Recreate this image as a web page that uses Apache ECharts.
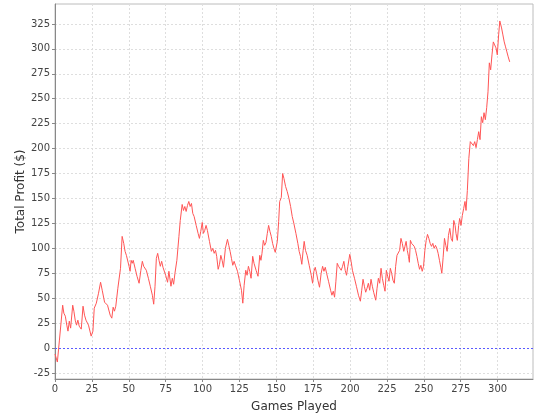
<!DOCTYPE html>
<html>
<head>
<meta charset="utf-8">
<script src="https://cdn.jsdelivr.net/npm/echarts@6/dist/echarts.min.js"></script>
<style>html,body{margin:0;padding:0;background:#fff}#c{width:540px;height:420px}</style>
</head>
<body>
<div id="c"></div>
<script>
// Vertices of the profit curve: game number and total profit ($)
var games = [0,1.6,3,5.2,6,7,8,8.8,9.7,10.6,12,12.8,13.7,14.6,15.5,16.4,17.8,19,20,21,21.8,22.7,24.5,25.7,26.6,28,29.5,30.9,32,33.6,34.7,35.6,37.4,38.5,39.4,40.3,41.2,42.6,43.7,44.4,45.5,46.6,47.5,48.4,49.3,50.2,50.9,51.6,52.3,53,54.3,55.6,57,58.2,59.2,
60.1,61,61.9,63.3,64.6,66,66.9,67.8,68.7,69.6,70.5,71.4,72.3,73.2,74,75,76.3,77.2,78.6,79.5,80.4,81.3,82.6,84,84.9,86.2,87.1,88,88.9,89.8,90.7,91.6,92.5,93.4,94.3,95.7,97,97.9,98.8,99.8,100.6,101.5,102.4,103.3,104.7,106,107,107.9,108.8,109.6,110.6,111.5,112.4,113.3,114.2,115.5,116.9,117.8,118.7,119.6,120.5,121.4,122.3,123.7,125,126.4,127.3,128.2,129.3,130.2,131.1,132,132.9,134,134.9,136.3,137.6,138.8,139.6,140.3,141.2,142.1,143,143.9,144.8,145.7,146.6,147.5,148.4,149.3,150.7,151.6,152.3,153.4,154.3,155.2,156.3,157.4,158.6,159.7,160.8,161.9,163.3,164.6,165.5,166.4,167.3,168.2,168.9,169.8,170.9,172.3,173.7,174.6,175.5,176.4,177.3,178.2,179.3,180.4,181.4,182.3,183.2,184.1,185.4,186.8,187.7,188.6,189.5,190.4,191.3,192.2,193.1,194,194.9,195.8,196.7,197.6,198.5,199.8,200.7,201.6,203,204.3,205.7,207,207.9,208.8,209.7,210.6,211.5,212.4,213.3,214.2,215.1,216,217.4,218.3,219.2,220.1,221,221.9,222.8,223.7,224.6,225.5,226.4,227.3,228.2,229.1,230,230.9,231.8,232.7,233.6,234.5,235.4,236.4,237.2,
238,238.8,239.6,240.2,240.9,241.7,242.6,243.5,244.4,245.3,246.2,247.1,248,248.9,249.8,250.7,251.6,252.5,253.4,254.3,255.2,256.1,257,257.9,258.8,259.7,260.6,261.5,262.2,263.1,264,264.9,265.8,266.7,267.6,268.5,269.4,270.3,271.2,271.8,272.7,273.6,274.3,275.2,276.1,277,277.9,278.6,279.5,280.5,281.5,282.5,283.6,284.5,285.4,286.3,287.2,288.1,289,289.9,290.8,291.7,292.6,293.5,294.4,295.3,296.2,297.1,298,298.9,299.8,300.7,301.5,302.7,303.6,304.5,305.4,306.3,307.2,308.2];
var profit = [-6,-14,8,43,35,32,23,17,27,20,43,37,28,23,28,22,19,42,33,28,30,23,12,17,40,45,55,66,58,46,48,43,33,30,41,37,42,60,62,80,112,105,97,93,92,82,77,88,85,88,80,72,65,78,87,
82,84,78,70,62,53,44,62,90,95,88,82,87,81,82,73,66,77,62,70,64,75,88,112,128,144,138,142,137,143,147,142,145,135,132,123,115,110,117,126,115,118,123,118,107,97,100,95,98,92,79,84,93,88,81,100,109,103,97,90,83,87,83,77,68,58,45,63,78,73,82,77,70,92,85,78,72,93,88,95,108,103,106,115,123,117,112,105,100,96,107,127,147,151,175,170,162,157,150,142,132,125,115,105,97,92,84,98,107,98,93,83,73,65,77,81,75,68,61,75,82,77,81,75,67,58,53,57,51,67,85,82,84,78,82,87,78,73,82,94,87,78,70,62,53,47,58,69,62,56,60,65,58,69,62,56,48,60,70,65,80,70,63,57,78,72,67,80,75,68,65,82,93,92,98,110,105,97,102,
107,98,92,86,108,105,107,102,98,92,85,79,83,77,82,98,108,114,110,105,102,105,100,103,100,95,88,81,75,91,110,103,97,113,120,110,107,128,123,115,108,123,130,123,133,140,147,138,158,190,207,209,203,207,201,209,217,209,232,226,236,229,241,257,286,279,294,307,304,301,294,314,328,321,314,307,302,297,292,287];

var xMin = 0, xMax = 324, xStep = 25;
var yMin = -31, yMax = 345;
var yTicks = [-25,0,25,50,75,100,125,150,175,200,225,250,275,300,325];
var xTitle = 'Games Played';
var yTitle = 'Total Profit ($)';

var points = games.map(function (g, i) { return [g, profit[i]]; });

var chart = echarts.init(document.getElementById('c'), null, {renderer: 'canvas'});
var font = 'DejaVu Sans';
var gridLine = {show: true, lineStyle: {color: '#dedede', type: [2, 2], width: 1}};
chart.setOption({
  animation: false,
  backgroundColor: '#ffffff',
  grid: {left: 55, right: 7, top: 4, bottom: 41, show: true, borderColor: '#bcbcbc', borderWidth: 1, backgroundColor: '#ffffff'},
  xAxis: {
    type: 'value', min: xMin, max: xMax, interval: xStep,
    name: xTitle, nameLocation: 'middle', nameGap: 22,
    nameTextStyle: {fontFamily: font, fontSize: 12, color: '#333'},
    axisLine: {show: true, onZero: false, lineStyle: {color: '#888', width: 1}},
    axisTick: {show: true, length: 3, inside: false, lineStyle: {color: '#888'}},
    axisLabel: {fontFamily: font, fontSize: 10, color: '#444', margin: 5, showMaxLabel: false},
    splitLine: gridLine
  },
  yAxis: {
    type: 'value', min: yMin, max: yMax,
    name: yTitle, nameLocation: 'middle', nameGap: 28, nameRotate: 90, nameMoveOverlap: false,
    nameTextStyle: {fontFamily: font, fontSize: 12, color: '#333'},
    axisLine: {show: true, onZero: false, lineStyle: {color: '#888', width: 1}},
    axisTick: {show: true, length: 3, inside: false, lineStyle: {color: '#888'}, customValues: yTicks},
    axisLabel: {fontFamily: font, fontSize: 10, color: '#444', margin: 5, customValues: yTicks},
    splitLine: gridLine
  },
  series: [{
    type: 'line', data: points, showSymbol: false, symbol: 'none',
    lineStyle: {color: '#ff5555', width: 1}, itemStyle: {color: '#ff5555'},
    markLine: {
      silent: true, symbol: 'none', label: {show: false},
      lineStyle: {color: '#5a5aff', type: [2, 2], width: 1},
      data: [{yAxis: 0}]
    }
  }]
});
</script>
</body>
</html>
